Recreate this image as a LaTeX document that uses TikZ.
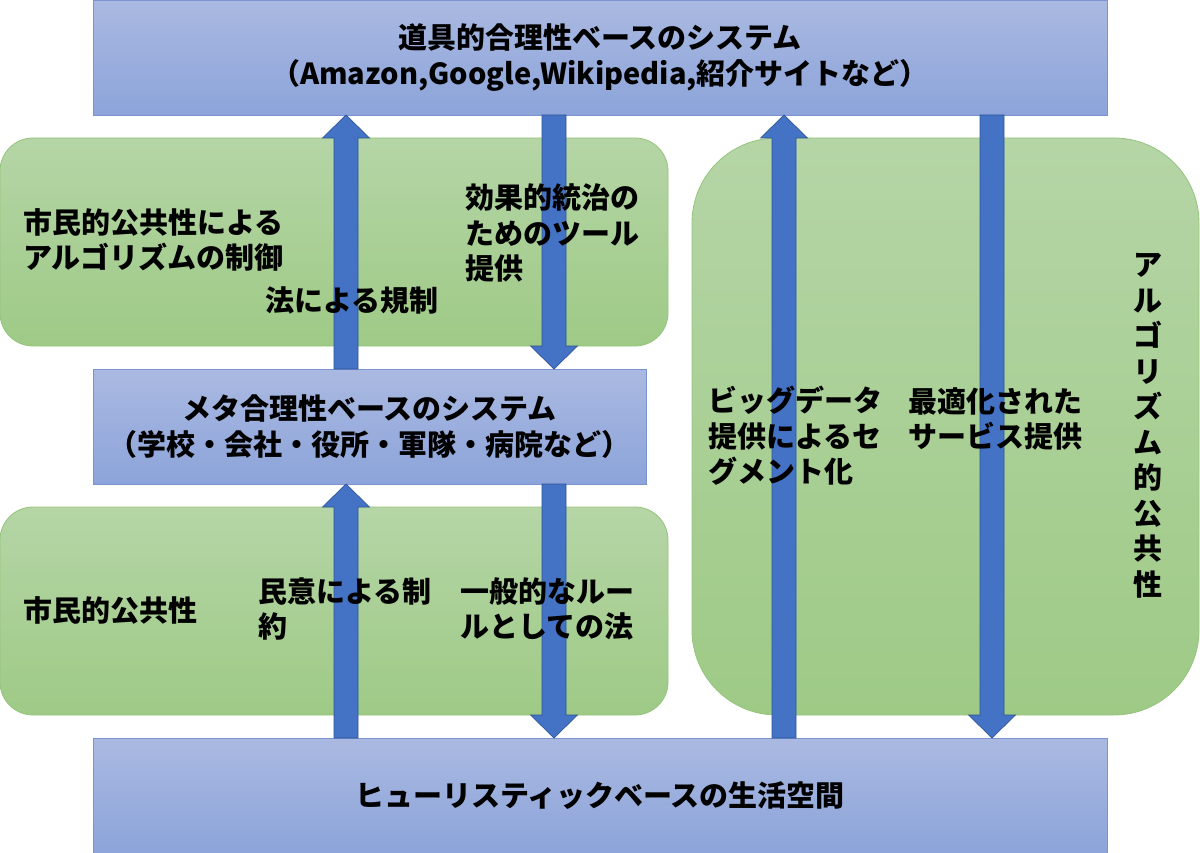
\documentclass[tikz,border=0pt]{standalone}
\usepackage{fontspec}
\setmainfont{Noto Sans CJK JP}
\usetikzlibrary{calc}
\definecolor{blueTop}{HTML}{AAB9E1}
\definecolor{blueBot}{HTML}{8CA4DA}
\definecolor{blueLine}{HTML}{7A94D2}
\definecolor{greenTop}{HTML}{B5D5A6}
\definecolor{greenBot}{HTML}{9ECA86}
\definecolor{greenLine}{HTML}{94C47B}
\definecolor{arrowFill}{HTML}{4472C4}
\definecolor{arrowLine}{HTML}{2F5597}
\newcommand\blockarrow[2]{%
  \coordinate (ba-b) at ($(#2)!23pt!(#1)$);
  \filldraw[arrowstyle]
    ($(#1)!12pt!90:(#2)$) -- ($(ba-b)!12pt!90:(#2)$) -- ($(ba-b)!23.5pt!90:(#2)$)
    -- (#2) -- ($(ba-b)!23.5pt!-90:(#2)$) -- ($(ba-b)!12pt!-90:(#2)$)
    -- ($(#1)!12pt!-90:(#2)$) -- cycle;}
\tikzset{
  bluebox/.style={draw=blueLine, line width=0.8pt, top color=blueTop, bottom color=blueBot,
    inner sep=0pt, align=center, font=\bfseries\fontsize{29}{35.5}\selectfont},
  greenbox/.style={draw=greenLine, line width=0.8pt, top color=greenTop, bottom color=greenBot,
    inner sep=0pt},
  arrowstyle/.style={fill=arrowFill, draw=arrowLine, line width=0.7pt, line join=miter},
  lbl/.style={inner sep=0pt, anchor=west, align=left, font=\bfseries\fontsize{29}{35.5}\selectfont},
}
\begin{document}
\begin{tikzpicture}[x=1pt,y=-1pt]
\useasboundingbox (0,0) rectangle (1200,853);
% green regions
\node[greenbox, rounded corners=33pt, minimum width=668pt, minimum height=208pt] (g1) at (334,242) {};
\node[greenbox, rounded corners=33pt, minimum width=668pt, minimum height=208pt] (g2) at (334,611) {};
\node[greenbox, rounded corners=85pt, minimum width=507pt, minimum height=577pt] (g3) at (945.5,426.5) {};
% blue systems
\node[bluebox, minimum width=1014pt, minimum height=115pt] (top) at (600,57.5)
  {道具的合理性ベースのシステム\\（Amazon,Google,Wikipedia,紹介サイトなど）};
\node[bluebox, minimum width=553pt, minimum height=115pt] (mid) at (369.5,426.5)
  {メタ合理性ベースのシステム\\（学校・会社・役所・軍隊・病院など）};
\node[bluebox, minimum width=1014pt, minimum height=115pt] (bot) at (600,795.5)
  {ヒューリスティックベースの生活空間};
% arrow end points on box edges
\coordinate (a1t) at (346,369); \coordinate (a1h) at (346,115);
\coordinate (a2t) at (554,115); \coordinate (a2h) at (554,369);
\coordinate (a3t) at (346,738); \coordinate (a3h) at (346,484);
\coordinate (a4t) at (554,484); \coordinate (a4h) at (554,738);
\coordinate (a5t) at (784,738); \coordinate (a5h) at (784,115);
\coordinate (a6t) at (992,115); \coordinate (a6h) at (992,738);
\blockarrow{a1t}{a1h}
\blockarrow{a2t}{a2h}
\blockarrow{a3t}{a3h}
\blockarrow{a4t}{a4h}
\blockarrow{a5t}{a5h}
\blockarrow{a6t}{a6h}
% labels
\node[lbl] (t1) at (23,240) {市民的公共性による\\アルゴリズムの制御};
\node[lbl] (t2) at (265,301) {法による規制};
\node[lbl] (t3) at (465,233) {効果的統治の\\ためのツール\\提供};
\node[lbl] (t4) at (23,610) {市民的公共性};
\node[lbl] (t5) at (258,609) {民意による制\\約};
\node[lbl] (t6) at (460,609) {一般的なルー\\ルとしての法};
\node[lbl] (t7) at (708,436) {ビッグデータ\\提供によるセ\\グメント化};
\node[lbl] (t8) at (908,419) {最適化された\\サービス提供};
\node[lbl, anchor=center, align=center] (t9) at (1148,426) {ア\\ル\\ゴ\\リ\\ズ\\ム\\的\\公\\共\\性};
\end{tikzpicture}
\end{document}
